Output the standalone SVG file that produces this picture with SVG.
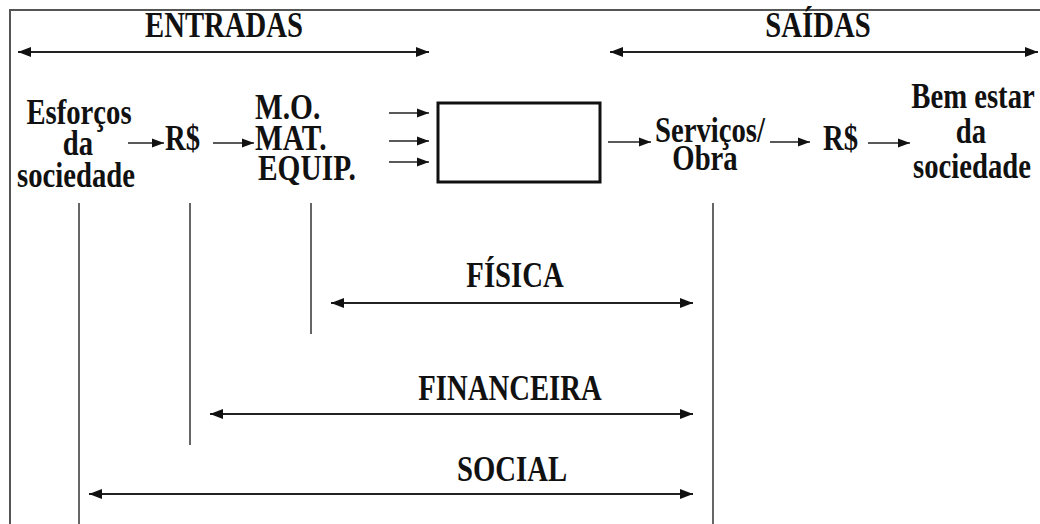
<svg xmlns="http://www.w3.org/2000/svg" width="1040" height="524" viewBox="0 0 1040 524">
<defs>
<marker id="big" markerUnits="userSpaceOnUse" markerWidth="14" markerHeight="12" refX="13" refY="6" orient="auto-start-reverse"><path d="M0,1 L13,6 L0,11 z" fill="#111"/></marker>
<marker id="sm" markerUnits="userSpaceOnUse" markerWidth="13" markerHeight="12" refX="12" refY="6" orient="auto"><path d="M0,1.5 L12,6 L0,10.5 z" fill="#111"/></marker>
</defs>
<style>
.m{text-anchor:middle}
.frame{stroke:#555;stroke-width:2;fill:none}
.dbl{stroke:#222;stroke-width:2;fill:none;marker-start:url(#big);marker-end:url(#big)}
.one{stroke:#222;stroke-width:1.6;fill:none;marker-end:url(#sm)}
.v{stroke:#333;stroke-width:1.5;fill:none}
</style>
<path class="frame" d="M10,524 L10,10 L1040,10"/>
<g font-family="'Liberation Serif', 'Times New Roman', 'DejaVu Serif', serif" font-weight="bold" font-size="35" fill="#111">
<g id="entradas">
<text class="m" transform="translate(224,37) scale(0.82,1)">ENTRADAS</text>
</g>
<g id="saidas">
<text class="m" transform="translate(818,37) scale(0.82,1)">SAÍDAS</text>
</g>
<g id="esforcos">
<text class="m" transform="translate(79,124) scale(0.82,1)">Esforços</text>
<text class="m" transform="translate(78,155) scale(0.82,1)">da</text>
<text class="m" transform="translate(76,187) scale(0.82,1)">sociedade</text>
</g>
<g id="rs1">
<text transform="translate(165,150) scale(0.82,1)">R$</text>
</g>
<g id="insumos">
<text transform="translate(255,119) scale(0.84,1)">M.O.</text>
<text transform="translate(255,150) scale(0.84,1)">MAT.</text>
<text transform="translate(258,180) scale(0.84,1)">EQUIP.</text>
</g>
<g id="servicos">
<text class="m" transform="translate(710,142) scale(0.82,1)">Serviços/</text>
<text class="m" transform="translate(705,170) scale(0.82,1)">Obra</text>
</g>
<g id="rs2">
<text transform="translate(823,150) scale(0.82,1)">R$</text>
</g>
<g id="bemestar">
<text class="m" transform="translate(973,108) scale(0.82,1)">Bem estar</text>
<text class="m" transform="translate(971,143) scale(0.82,1)">da</text>
<text class="m" transform="translate(972,178) scale(0.82,1)">sociedade</text>
</g>
<g id="fisica"><text class="m" transform="translate(515,287) scale(0.82,1)">FÍSICA</text></g>
<g id="financeira"><text class="m" transform="translate(510,400) scale(0.82,1)">FINANCEIRA</text></g>
<g id="social"><text class="m" transform="translate(512,481) scale(0.82,1)">SOCIAL</text></g>
</g>
<g id="processo">
<rect x="438" y="103" width="162" height="79" fill="none" stroke="#111" stroke-width="3"/>
</g>
<g id="connectors">
<line class="dbl" x1="18" y1="52" x2="429" y2="52"/>
<line class="dbl" x1="610" y1="52" x2="1038" y2="52"/>
<line class="one" x1="128" y1="143" x2="164" y2="143"/>
<line class="one" x1="213" y1="143" x2="254" y2="143"/>
<line class="one" x1="389" y1="113" x2="429" y2="113"/>
<line class="one" x1="389" y1="141" x2="429" y2="141"/>
<line class="one" x1="389" y1="162" x2="429" y2="162"/>
<line class="one" x1="608" y1="142" x2="651" y2="142"/>
<line class="one" x1="770" y1="142" x2="810" y2="142"/>
<line class="one" x1="868" y1="143" x2="910" y2="143"/>
<line class="v" x1="79" y1="203" x2="79" y2="524"/>
<line class="v" x1="190" y1="203" x2="190" y2="445"/>
<line class="v" x1="311" y1="203" x2="311" y2="334"/>
<line class="v" x1="713" y1="203" x2="713" y2="524"/>
<line class="dbl" x1="331" y1="303" x2="693" y2="303"/>
<line class="dbl" x1="210" y1="414" x2="693" y2="414"/>
<line class="dbl" x1="89" y1="494" x2="693" y2="494"/>
</g>
</svg>
